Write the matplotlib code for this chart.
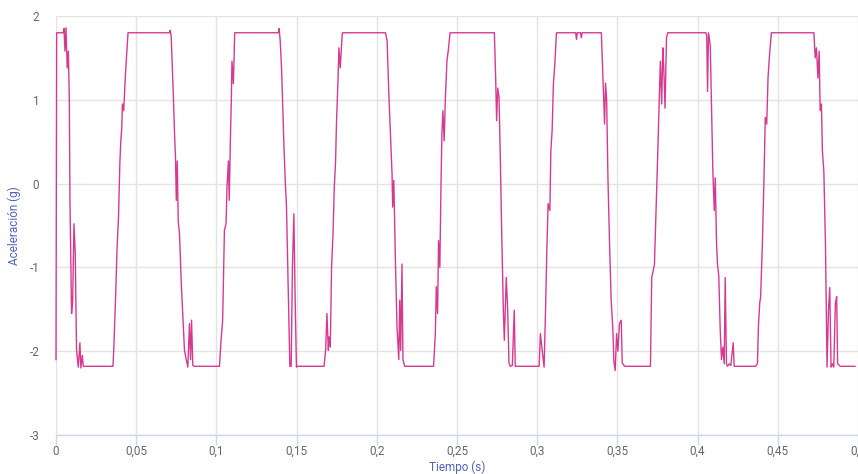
import matplotlib
matplotlib.use('Agg')
import matplotlib.pyplot as plt

# time (s) and acceleration (g)
tiempo = [
    0.0000, 0.0004, 0.0045, 0.0050, 0.0056, 0.0062, 0.0070, 0.0077, 0.0083, 0.0087,
    0.0097, 0.0104, 0.0112, 0.0120, 0.0128, 0.0139, 0.0149, 0.0155, 0.0164, 0.0170,
    0.0355, 0.0360, 0.0373, 0.0380, 0.0390, 0.0398, 0.0404, 0.0410, 0.0414, 0.0422,
    0.0433, 0.0439, 0.0449, 0.0708, 0.0712, 0.0718, 0.0729, 0.0739, 0.0745, 0.0750,
    0.0756, 0.0762, 0.0770, 0.0781, 0.0791, 0.0801, 0.0812, 0.0822, 0.0832, 0.0839,
    0.0845, 0.0853, 0.0863, 0.1019, 0.1029, 0.1039, 0.1050, 0.1060, 0.1066, 0.1075,
    0.1080, 0.1087, 0.1093, 0.1097, 0.1106, 0.1114, 0.1385, 0.1391, 0.1398, 0.1406,
    0.1412, 0.1420, 0.1429, 0.1437, 0.1449, 0.1458, 0.1466, 0.1474, 0.1483, 0.1491,
    0.1499, 0.1507, 0.1671, 0.1681, 0.1689, 0.1698, 0.1702, 0.1710, 0.1718, 0.1727,
    0.1735, 0.1743, 0.1749, 0.1758, 0.1764, 0.1772, 0.1785, 0.2054, 0.2064, 0.2075,
    0.2085, 0.2095, 0.2099, 0.2106, 0.2116, 0.2126, 0.2137, 0.2143, 0.2149, 0.2157,
    0.2163, 0.2174, 0.2354, 0.2365, 0.2371, 0.2379, 0.2385, 0.2393, 0.2400, 0.2406,
    0.2412, 0.2420, 0.2427, 0.2437, 0.2445, 0.2457, 0.2733, 0.2741, 0.2747, 0.2754,
    0.2762, 0.2770, 0.2778, 0.2789, 0.2795, 0.2807, 0.2816, 0.2824, 0.2832, 0.2845,
    0.2857, 0.2863, 0.3012, 0.3020, 0.3031, 0.3043, 0.3052, 0.3060, 0.3068, 0.3079,
    0.3085, 0.3093, 0.3101, 0.3110, 0.3120, 0.3240, 0.3245, 0.3250, 0.3270, 0.3275,
    0.3280, 0.3400, 0.3410, 0.3420, 0.3426, 0.3433, 0.3441, 0.3451, 0.3461, 0.3472,
    0.3478, 0.3486, 0.3495, 0.3503, 0.3513, 0.3524, 0.3530, 0.3545, 0.3706, 0.3714,
    0.3722, 0.3731, 0.3741, 0.3752, 0.3760, 0.3768, 0.3776, 0.3783, 0.3789, 0.3797,
    0.3806, 0.3814, 0.4052, 0.4057, 0.4062, 0.4068, 0.4079, 0.4087, 0.4095, 0.4104,
    0.4110, 0.4118, 0.4124, 0.4132, 0.4141, 0.4149, 0.4157, 0.4166, 0.4172, 0.4180,
    0.4186, 0.4197, 0.4207, 0.4222, 0.4228, 0.4362, 0.4373, 0.4379, 0.4387, 0.4393,
    0.4404, 0.4414, 0.4422, 0.4431, 0.4439, 0.4447, 0.4460, 0.4725, 0.4733, 0.4741,
    0.4750, 0.4758, 0.4764, 0.4772, 0.4778, 0.4787, 0.4797, 0.4807, 0.4816, 0.4824,
    0.4832, 0.4840, 0.4849, 0.4859, 0.4867, 0.4873, 0.4889, 0.4981,
]
aceleracion = [
    -2.10, 1.80, 1.80, 1.85, 1.58, 1.86, 1.38, 1.58, 1.00, -0.20,
    -1.55, -1.39, -0.48, -0.83, -1.99, -2.19, -1.90, -2.20, -2.05, -2.18,
    -2.18, -1.99, -1.27, -0.80, -0.38, 0.24, 0.51, 0.66, 0.95, 0.87,
    1.31, 1.50, 1.80, 1.80, 1.83, 1.76, 1.19, 0.60, 0.31, -0.20,
    0.27, -0.45, -0.60, -1.19, -1.60, -1.99, -2.10, -2.19, -1.67, -2.10,
    -1.63, -2.17, -2.18, -2.18, -1.87, -1.63, -0.56, -0.48, -0.04, 0.27,
    -0.20, 0.51, 0.99, 1.46, 1.19, 1.80, 1.80, 1.85, 1.70, 1.38,
    1.03, 0.51, 0.04, -0.28, -1.39, -2.18, -2.18, -1.00, -0.36, -1.39,
    -2.19, -2.18, -2.18, -1.99, -1.55, -1.99, -1.83, -1.95, -1.00, -0.60,
    -0.04, 0.27, 0.75, 1.23, 1.62, 1.38, 1.80, 1.80, 1.71, 1.07,
    0.60, 0.12, -0.28, 0.04, -0.92, -1.71, -2.10, -1.39, -1.99, -0.96,
    -2.10, -2.18, -2.18, -1.79, -1.23, -1.55, -0.68, -1.00, -0.04, 0.60,
    0.87, 0.51, 0.99, 1.46, 1.58, 1.80, 1.80, 1.26, 0.75, 1.14,
    1.03, 0.31, -0.52, -1.51, -1.87, -1.12, -1.51, -2.14, -2.18, -2.17,
    -1.51, -2.18, -2.18, -1.79, -1.99, -2.19, -1.51, -0.80, -0.24, -0.32,
    0.39, 0.63, 1.19, 1.43, 1.80, 1.80, 1.72, 1.80, 1.80, 1.74,
    1.80, 1.80, 1.26, 0.71, 1.20, 1.00, 0.07, -0.71, -1.39, -1.75,
    -2.12, -2.23, -1.79, -2.00, -1.67, -1.63, -2.14, -2.18, -2.18, -1.12,
    -1.05, -0.96, -0.32, 0.39, 0.95, 1.46, 0.95, 1.62, 1.38, 0.90,
    1.74, 1.80, 1.80, 1.76, 1.10, 1.80, 1.65, 0.87, 0.15, -0.32,
    0.07, -0.71, -0.96, -1.10, -1.75, -2.10, -1.95, -2.15, -1.12, -2.15,
    -2.18, -2.15, -2.17, -1.90, -2.18, -2.18, -2.15, -1.71, -1.43, -1.35,
    -0.71, 0.07, 0.79, 0.71, 1.26, 1.50, 1.80, 1.80, 1.50, 1.62,
    1.26, 1.58, 0.87, 0.95, 0.39, 0.15, -0.71, -2.19, -1.51, -1.24,
    -2.19, -2.15, -2.19, -1.43, -1.35, -2.15, -2.18, -2.18,
]

x_ticks = [0, 0.05, 0.1, 0.15, 0.2, 0.25, 0.3, 0.35, 0.4, 0.45, 0.5]
x_tick_labels = ['0', '0,05', '0,1', '0,15', '0,2', '0,25', '0,3', '0,35', '0,4', '0,45', '0,5']
y_ticks = [-3, -2, -1, 0, 1, 2]
y_tick_labels = ['-3', '-2', '-1', '0', '1', '2']

plt.rcParams['font.family'] = ['Roboto', 'DejaVu Sans']

fig = plt.figure(figsize=(8.58, 4.74), dpi=100)
ax = fig.add_axes([56 / 858, 39 / 474, 802 / 858, 419 / 474])

ax.plot(tiempo, aceleracion, color='#d63a90', linewidth=1.0, clip_on=False)

ax.set_xlim(0, 0.4981)
ax.set_ylim(-3, 2)

ax.set_xticks(x_ticks)
ax.set_xticklabels(x_tick_labels)
ax.set_yticks(y_ticks)
ax.set_yticklabels(y_tick_labels)

# grid and axis look
ax.grid(True, color='#e3e3e3', linewidth=1)
ax.set_axisbelow(True)
for side in ['top', 'right', 'left']:
    ax.spines[side].set_visible(False)
ax.spines['bottom'].set_color('#ccd6eb')
ax.spines['bottom'].set_linewidth(1)

ax.tick_params(axis='x', colors='#666666', labelsize=8.5, length=7, width=1,
               color='#ccd6eb', pad=0)
ax.tick_params(axis='y', colors='#666666', labelsize=8.5, length=0, pad=12)

ax.set_xlabel('Tiempo (s)', color='#5264b8', fontsize=8.5)
ax.set_ylabel('Aceleración (g)', color='#5264b8', fontsize=8.5)
ax.xaxis.set_label_coords(0.5, -0.062)
ax.yaxis.set_label_coords(-0.044, 0.5)

plt.savefig('out.png', dpi=100)
